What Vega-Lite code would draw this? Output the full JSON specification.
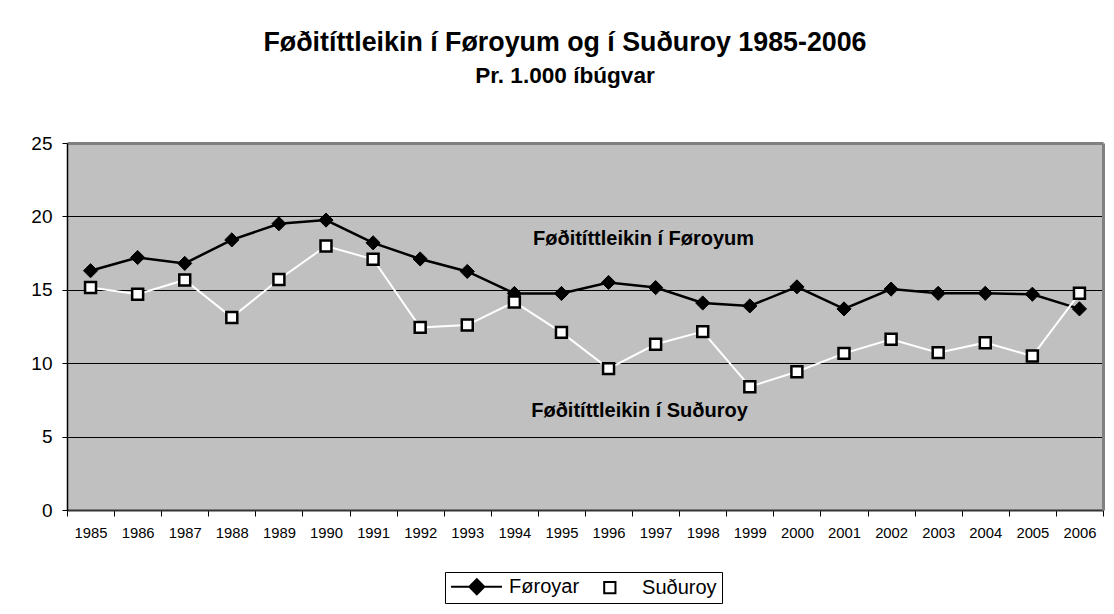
{
  "$schema": "https://vega.github.io/schema/vega-lite/v6.json",
  "width": 1036,
  "height": 367,
  "autosize": {"type": "none"},
  "padding": {"left": 67, "top": 143, "right": 11, "bottom": 104},
  "background": "white",
  "view": {"fill": "#C0C0C0", "stroke": "#C0C0C0", "strokeWidth": 0},
  "title": {
    "text": "Føðitíttleikin í Føroyum og í Suðuroy 1985-2006",
    "subtitle": "Pr. 1.000 íbúgvar",
    "anchor": "middle",
    "dx": -20,
    "offset": 46,
    "font": "Liberation Sans",
    "fontSize": 26.8,
    "fontWeight": "bold",
    "color": "black",
    "subtitleFont": "Liberation Sans",
    "subtitleFontSize": 22.6,
    "subtitleFontWeight": "bold",
    "subtitleColor": "black",
    "subtitlePadding": 9
  },
  "config": {
    "font": "Liberation Sans"
  },
  "data": {
    "values": [
      {"year": "1985", "series": "Føroyar", "value": 16.3},
      {"year": "1986", "series": "Føroyar", "value": 17.2},
      {"year": "1987", "series": "Føroyar", "value": 16.8},
      {"year": "1988", "series": "Føroyar", "value": 18.4},
      {"year": "1989", "series": "Føroyar", "value": 19.5},
      {"year": "1990", "series": "Føroyar", "value": 19.75},
      {"year": "1991", "series": "Føroyar", "value": 18.2},
      {"year": "1992", "series": "Føroyar", "value": 17.1},
      {"year": "1993", "series": "Føroyar", "value": 16.25},
      {"year": "1994", "series": "Føroyar", "value": 14.75},
      {"year": "1995", "series": "Føroyar", "value": 14.75},
      {"year": "1996", "series": "Føroyar", "value": 15.5},
      {"year": "1997", "series": "Føroyar", "value": 15.15},
      {"year": "1998", "series": "Føroyar", "value": 14.1},
      {"year": "1999", "series": "Føroyar", "value": 13.9},
      {"year": "2000", "series": "Føroyar", "value": 15.2},
      {"year": "2001", "series": "Føroyar", "value": 13.7},
      {"year": "2002", "series": "Føroyar", "value": 15.05},
      {"year": "2003", "series": "Føroyar", "value": 14.76},
      {"year": "2004", "series": "Føroyar", "value": 14.76},
      {"year": "2005", "series": "Føroyar", "value": 14.7},
      {"year": "2006", "series": "Føroyar", "value": 13.7},
      {"year": "1985", "series": "Suðuroy", "value": 15.15},
      {"year": "1986", "series": "Suðuroy", "value": 14.7},
      {"year": "1987", "series": "Suðuroy", "value": 15.67},
      {"year": "1988", "series": "Suðuroy", "value": 13.12},
      {"year": "1989", "series": "Suðuroy", "value": 15.7},
      {"year": "1990", "series": "Suðuroy", "value": 17.98},
      {"year": "1991", "series": "Suðuroy", "value": 17.08},
      {"year": "1992", "series": "Suðuroy", "value": 12.44},
      {"year": "1993", "series": "Suðuroy", "value": 12.6},
      {"year": "1994", "series": "Suðuroy", "value": 14.17},
      {"year": "1995", "series": "Suðuroy", "value": 12.1},
      {"year": "1996", "series": "Suðuroy", "value": 9.63},
      {"year": "1997", "series": "Suðuroy", "value": 11.29},
      {"year": "1998", "series": "Suðuroy", "value": 12.15},
      {"year": "1999", "series": "Suðuroy", "value": 8.4},
      {"year": "2000", "series": "Suðuroy", "value": 9.42},
      {"year": "2001", "series": "Suðuroy", "value": 10.67},
      {"year": "2002", "series": "Suðuroy", "value": 11.63},
      {"year": "2003", "series": "Suðuroy", "value": 10.72},
      {"year": "2004", "series": "Suðuroy", "value": 11.4},
      {"year": "2005", "series": "Suðuroy", "value": 10.49},
      {"year": "2006", "series": "Suðuroy", "value": 14.76}
    ]
  },
  "resolve": {"scale": {"y": "shared"}, "axis": {"y": "independent"}},
  "layer": [
    {
      "transform": [{"filter": "datum.series == 'Føroyar'"}],
      "mark": {"type": "line", "color": "black", "strokeWidth": 2.5},
      "encoding": {
        "x": {
          "field": "year", "type": "ordinal",
          "scale": {"paddingInner": 0, "paddingOuter": 0},
          "axis": {
            "title": null, "labelAngle": 0, "tickBand": "extent", "grid": false,
            "labelFont": "Liberation Sans", "labelFontSize": 14.8, "labelColor": "black",
            "labelPadding": 9, "tickSize": 6, "tickColor": "black", "tickWidth": 1,
            "domainColor": "#333333", "domainWidth": 2
          }
        },
        "y": {
          "field": "value", "type": "quantitative",
          "scale": {"domain": [0, 25], "nice": false},
          "axis": {
            "title": null, "values": [0, 5, 10, 15, 20, 25], "grid": true,
            "gridColor": {"condition": {"test": "datum.value == 25", "value": "#808080"}, "value": "black"},
            "gridWidth": {"condition": {"test": "datum.value == 25", "value": 3}, "value": 1},
            "labelFont": "Liberation Sans", "labelFontSize": 19, "labelColor": "black",
            "labelPadding": 10, "tickSize": 5, "tickColor": "black",
            "domainColor": "black", "domainWidth": 1.5
          }
        }
      }
    },
    {
      "transform": [{"filter": "datum.series == 'Føroyar'"}],
      "mark": {"type": "point", "shape": "diamond", "filled": true, "fill": "black", "stroke": "black", "strokeWidth": 1, "size": 200, "opacity": 1},
      "encoding": {
        "x": {"field": "year", "type": "ordinal"},
        "y": {"field": "value", "type": "quantitative", "axis": null}
      }
    },
    {
      "transform": [{"filter": "datum.series == 'Suðuroy'"}],
      "mark": {"type": "line", "color": "white", "strokeWidth": 2},
      "encoding": {
        "x": {"field": "year", "type": "ordinal"},
        "y": {"field": "value", "type": "quantitative", "axis": null}
      }
    },
    {
      "transform": [{"filter": "datum.series == 'Suðuroy'"}],
      "mark": {"type": "point", "shape": "square", "filled": true, "fill": "white", "stroke": "black", "strokeWidth": 2.5, "size": 120, "opacity": 1},
      "encoding": {
        "x": {"field": "year", "type": "ordinal"},
        "y": {
          "field": "value", "type": "quantitative",
          "axis": {"orient": "right", "title": null, "labels": false, "ticks": false, "grid": false, "domainColor": "#808080", "domainWidth": 3}
        }
      }
    },
    {
      "transform": [{"filter": "datum.value < 0"}],
      "mark": {"type": "point", "filled": true, "strokeWidth": 2, "opacity": 1},
      "encoding": {
        "shape": {
          "field": "series", "type": "nominal",
          "scale": {
            "domain": ["Føroyar", "Suðuroy"],
            "range": ["M-1.13,0H5.67M2.31,-1L3.31,0L2.31,1L1.31,0Z", "M1.56,-0.75H3.06V0.75H1.56Z"]
          },
          "legend": {
            "title": null, "orient": "none", "legendX": 378, "legendY": 429,
            "direction": "horizontal", "columns": 2,
            "strokeColor": "black", "fillColor": "white", "padding": 4.5,
            "symbolSize": 225, "symbolStrokeWidth": 2,
            "labelFont": "Liberation Sans", "labelFontSize": 20, "labelColor": "black",
            "labelOffset": 39.6, "columnPadding": 3
          }
        },
        "fill": {
          "field": "series", "type": "nominal",
          "scale": {"domain": ["Føroyar", "Suðuroy"], "range": ["black", "white"]}
        },
        "stroke": {
          "field": "series", "type": "nominal",
          "scale": {"domain": ["Føroyar", "Suðuroy"], "range": ["black", "black"]}
        }
      }
    },
    {
      "data": {"values": [{"label": "Føðitíttleikin í Føroyum"}]},
      "mark": {"type": "text", "font": "Liberation Sans", "fontSize": 20, "fontWeight": "bold", "align": "center", "baseline": "alphabetic", "dx": 35, "color": "black"},
      "encoding": {
        "x": {"datum": "1996", "type": "ordinal"},
        "y": {"datum": 18.05, "type": "quantitative", "axis": null},
        "text": {"field": "label"}
      }
    },
    {
      "data": {"values": [{"label": "Føðitíttleikin í Suðuroy"}]},
      "mark": {"type": "text", "font": "Liberation Sans", "fontSize": 20, "fontWeight": "bold", "align": "center", "baseline": "alphabetic", "dx": 31, "color": "black"},
      "encoding": {
        "x": {"datum": "1996", "type": "ordinal"},
        "y": {"datum": 6.33, "type": "quantitative", "axis": null},
        "text": {"field": "label"}
      }
    }
  ]
}
